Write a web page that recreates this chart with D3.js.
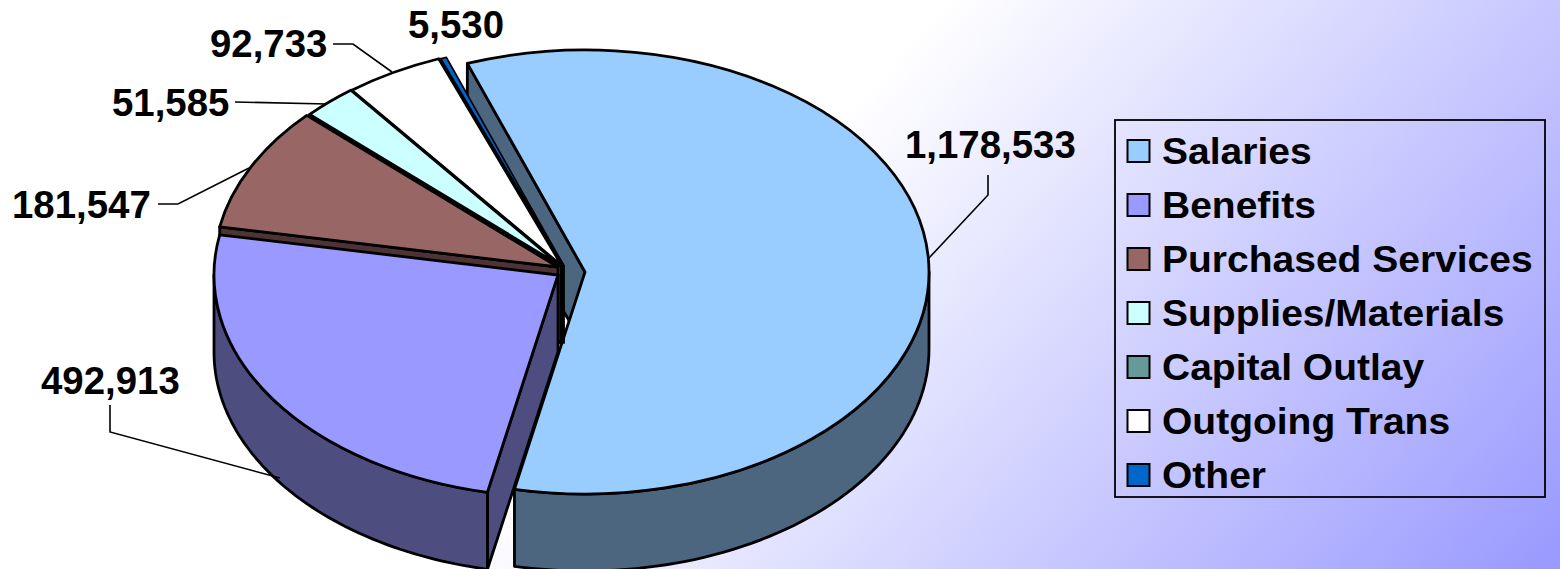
<!DOCTYPE html>
<html>
<head>
<meta charset="utf-8">
<script src="https://cdn.jsdelivr.net/npm/d3@7"></script>
<style>
html,body{margin:0;padding:0;background:#fff;overflow:hidden}
text{font-family:"Liberation Sans",Arial,sans-serif;font-weight:700;fill:#000}
</style>
</head>
<body>
<svg id="chart" width="1560" height="569"></svg>
<script>
const categories = ["Salaries","Benefits","Purchased Services","Supplies/Materials","Capital Outlay","Outgoing Trans","Other"];
const values = [1178533,492913,181547,51585,0,92733,5530];
const colors = ["#99CCFF","#9999FF","#996666","#CCFFFF","#669999","#FFFFFF","#0066CC"];
const valueLabels = ["1,178,533","492,913","181,547","51,585","","92,733","5,530"];

// layout (separate from the data)
const W = 1560, H = 569;
const centre = [558, 272], rx = 344, ry = 222, depth = 77;
const explode = [[27,0],[0,3],[0,-5],[3,-6],[0,0],[4,-6],[6,-6]];
const labelPos = [[905,158],[41,394],[12,218],[112,116],[0,0],[210,57],[408,38]];
const leaders = [
  [[988,175],[988,195],[929,258]],
  [[110,405],[110,432],[280,478]],
  [[158,204],[178,204],[249,168]],
  [[235,102],[327,104]],
  null,
  [[333,44],[353,44],[392,72]],
  null
];
const drawOrder = [0,6,5,3,2,1];

const svg = d3.select("#chart");
const defs = svg.append("defs");
const grad = defs.append("linearGradient").attr("id","bg").attr("gradientUnits","userSpaceOnUse")
  .attr("x1",532).attr("y1",469).attr("x2",1159).attr("y2",1020);
grad.append("stop").attr("offset",0).attr("stop-color","#FFFFFF");
grad.append("stop").attr("offset",1).attr("stop-color","#9999FF");
svg.append("rect").attr("width",W).attr("height",H).attr("fill","url(#bg)");

const toRad = d => d*Math.PI/180;
const pie = d3.pie().sort(null).startAngle(toRad(-20)).endAngle(toRad(340));
const slices = pie(values);
const sx = d3.scaleLinear().domain([-1,1]).range([-rx,rx]);
const sy = d3.scaleLinear().domain([-1,1]).range([-ry,ry]);
const arc = d3.arc().innerRadius(0).outerRadius(rx);
const shade = c => { const r = d3.rgb(c); return d3.rgb(r.r*0.5,r.g*0.5,r.b*0.5).formatHex(); };
const line = d3.line();

function rim(a,c,dz){ return [c[0]+sx(Math.sin(a)), c[1]-sy(Math.cos(a))+dz]; }

drawOrder.forEach(i => {
  const s = slices[i];
  const c = [centre[0]+explode[i][0], centre[1]+explode[i][1]];
  const g = svg.append("g").attr("stroke","#000").attr("stroke-width",i===6?1.8:2.8).attr("stroke-linejoin","round");
  // start cut face
  g.append("path").attr("fill",shade(colors[i]))
    .attr("d",line([[c[0],c[1]],rim(s.startAngle,c,0),rim(s.startAngle,c,depth),[c[0],c[1]+depth]])+"Z");
  // outer front wall
  const a0 = Math.max(s.startAngle,Math.PI/2), a1 = Math.min(s.endAngle,Math.PI*1.5);
  if (a1 > a0) {
    const steps = d3.range(0,61).map(k => a0+(a1-a0)*k/60);
    const upper = steps.map(a => rim(a,c,0));
    const lower = steps.slice().reverse().map(a => rim(a,c,depth));
    g.append("path").attr("fill",shade(colors[i])).attr("d",line(upper.concat(lower))+"Z");
  }
  // top
  g.append("path").attr("fill",colors[i])
    .attr("transform",`translate(${c[0]},${c[1]}) scale(1,${ry/rx})`)
    .attr("vector-effect","non-scaling-stroke")
    .attr("d",arc(s));
});

// leaders
leaders.forEach(l => {
  if (l) svg.append("path").attr("d",line(l)).attr("fill","none").attr("stroke","#000").attr("stroke-width",1.6);
});
// value labels
valueLabels.forEach((t,i) => {
  if (t) svg.append("text").attr("transform",`translate(${labelPos[i][0]},${labelPos[i][1]}) scale(1.01,1)`).attr("font-size",38).text(t);
});

// legend
svg.append("rect").attr("x",1115).attr("y",120).attr("width",430).attr("height",377)
  .attr("fill","none").attr("stroke","#000").attr("stroke-width",1.8);
const rowY = d3.scalePoint().domain(categories).range([151,475]);
categories.forEach((t,i) => {
  svg.append("rect").attr("x",1127.5).attr("y",rowY(t)-11).attr("width",22).attr("height",22)
    .attr("fill",colors[i]).attr("stroke","#000").attr("stroke-width",2);
  svg.append("text").attr("transform",`translate(1162,${rowY(t)+12.5}) scale(1.04,1)`).attr("font-size",37.5).text(t);
});
</script>
</body>
</html>
